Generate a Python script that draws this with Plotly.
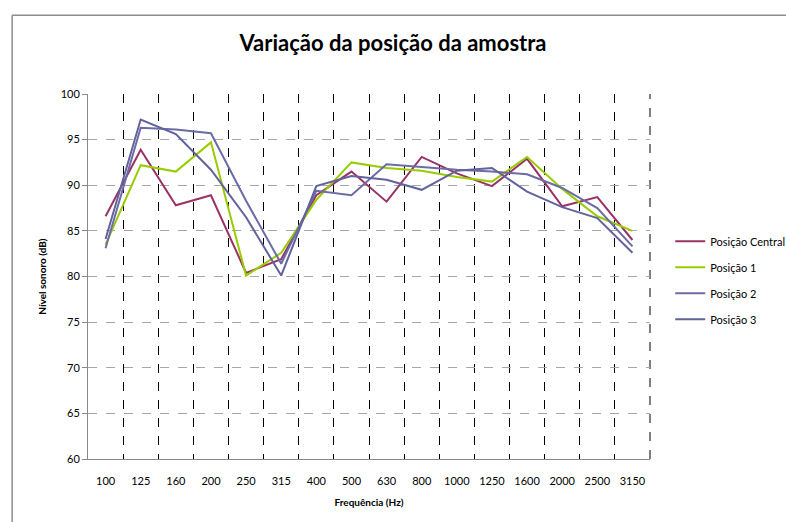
import plotly.graph_objects as go

freqs = ["100", "125", "160", "200", "250", "315", "400", "500", "630", "800",
         "1000", "1250", "1600", "2000", "2500", "3150"]

central = [86.6, 93.9, 87.8, 88.9, 80.4, 81.9, 88.9, 91.5, 88.2, 93.1,
           91.3, 89.9, 92.9, 87.7, 88.7, 84.0]
pos1 = [83.5, 92.2, 91.5, 94.7, 80.1, 82.6, 88.4, 92.5, 91.9, 91.6,
        90.9, 90.4, 93.1, 89.6, 86.6, 85.0]
pos2 = [83.1, 96.3, 96.1, 95.7, 88.3, 81.4, 89.4, 88.9, 92.3, 92.0,
        91.7, 91.5, 91.2, 89.7, 87.5, 83.3]
pos3 = [84.1, 97.2, 95.6, 91.7, 86.5, 80.1, 89.9, 91.0, 90.6, 89.5,
        91.6, 91.9, 89.3, 87.6, 86.4, 82.6]

names = ["Posição Central", "Posição 1", "Posição 2", "Posição 3"]
series = [central, pos1, pos2, pos3]
colors = ["#993366", "#99CC00", "#6B6BA6", "#62629C"]

font = "Lato, 'Open Sans', sans-serif"

fig = go.Figure()
for i, (name, ys, c) in enumerate(zip(names, series, colors)):
    fig.add_trace(go.Scatter(x=freqs, y=ys, name=name, mode="lines",
                             line=dict(color=c, width=2), legendgroup=str(i)))

frame = dict(color="#8C8C8C", width=1.5)

fig.update_layout(
    width=786, height=522,
    margin=dict(l=88, r=136, t=94, b=63, autoexpand=False),
    paper_bgcolor="white", plot_bgcolor="white",
    font=dict(family=font, size=11, color="#000000"),
    title=dict(text="<b>Variação da posição da amostra</b>",
               x=0.5, xanchor="center", y=0.918, yanchor="middle",
               font=dict(size=22, family=font)),
    legend=dict(x=1.036, y=0.636, xanchor="left", yanchor="top",
                font=dict(size=11), tracegroupgap=7, itemwidth=30,
                bgcolor="rgba(0,0,0,0)"),
    xaxis=dict(type="category", tickson="boundaries", range=[-0.5, 15.5],
               showgrid=True, gridcolor="#000000", griddash="dash", gridwidth=1,
               showline=True, linecolor="#888888", linewidth=1,
               ticks="", ticklabelstandoff=12,
               title=dict(text="<b>Frequência (Hz)</b>", font=dict(size=10), standoff=12),
               tickfont=dict(size=11)),
    yaxis=dict(range=[60, 100], dtick=5, tick0=60,
               showgrid=True, gridcolor="#A6A6A6", griddash="dash", gridwidth=1,
               showline=True, linecolor="#888888", linewidth=1,
               ticks="outside", ticklen=5, tickcolor="#888888",
               zeroline=False,
               title=dict(text="<b>Nível sonoro (dB)</b>", font=dict(size=10), standoff=12),
               tickfont=dict(size=11)),
    shapes=[dict(type="line", xref="paper", yref="paper",
                 x0=-0.135, x1=1.4, y0=1.216, y1=1.216, line=frame, layer="below"),
            dict(type="line", xref="paper", yref="paper",
                 x0=-0.135, x1=-0.135, y0=-0.3, y1=1.216, line=frame, layer="below"),
            dict(type="line", xref="paper", yref="paper", x0=1, x1=1, y0=0, y1=1,
                 line=dict(color="#000000", width=1, dash="dash"), layer="below")],
)

# drop the page's default body margin so the 786x522 figure fills the window
fig.write_html("out.html", config={"displayModeBar": False},
               post_script="document.body.style.margin='0';document.body.style.overflow='hidden';")
